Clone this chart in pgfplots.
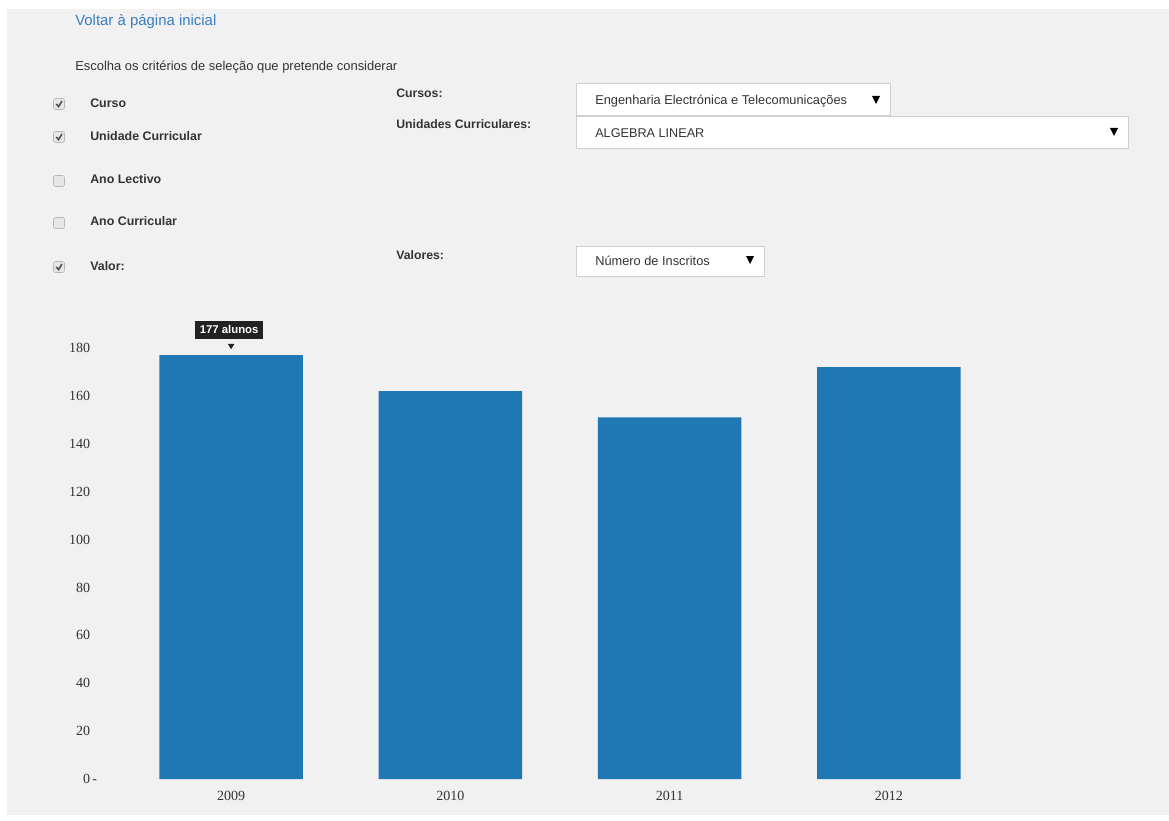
\documentclass[border=0pt]{standalone}
\usepackage{fontspec}
\setmainfont{Liberation Sans}
\newfontfamily\serifnum{Liberation Serif}
\usepackage{pgfplots}
\pgfplotsset{compat=1.18}
\definecolor{barblue}{HTML}{1F77B4}
\definecolor{linkblue}{HTML}{3A7DC0}
\definecolor{txt}{HTML}{333333}
\definecolor{pagebg}{HTML}{F1F1F1}
\definecolor{tipbg}{HTML}{222222}
\definecolor{boxborder}{HTML}{CFCFCF}
\definecolor{cbfill}{HTML}{E6E6E6}
\definecolor{cbdraw}{HTML}{B8B8B8}
\newcommand\fs[1]{\fontsize{#1}{#1}\selectfont}
\begin{document}
\begin{tikzpicture}
\begin{scope}[x=0.75pt,y=-0.75pt]
\fill[white] (0,0) rectangle (1169,820);
\fill[pagebg] (7,9) rectangle (1169,815);
\useasboundingbox (0,0) rectangle (1169,820);
% header text
\node[anchor=west, inner sep=0, text=linkblue, font=\fs{11.2}] at (75,22) {Voltar à página inicial};
\node[anchor=west, inner sep=0, text=txt, font=\fs{9.7}] at (75,67.5) {Escolha os critérios de seleção que pretende considerar};
% checkboxes
\foreach \y in {104,137,181,223,267} {
  \draw[cbdraw, fill=cbfill, rounded corners=1.5pt] (53.5,\y-5.5) rectangle (64.5,\y+5.5);
}
\foreach \y in {104,137,267} {
  \draw[txt!85, line width=1.2pt] (56.3,\y) -- (58.6,\y+2.6) -- (62,\y-3);
}
\node[anchor=west, inner sep=0, text=txt, font=\bfseries\fs{9.3}] at (90,103) {Curso};
\node[anchor=west, inner sep=0, text=txt, font=\bfseries\fs{9.3}] at (90,136) {Unidade Curricular};
\node[anchor=west, inner sep=0, text=txt, font=\bfseries\fs{9.3}] at (90,179) {Ano Lectivo};
\node[anchor=west, inner sep=0, text=txt, font=\bfseries\fs{9.3}] at (90,221) {Ano Curricular};
\node[anchor=west, inner sep=0, text=txt, font=\bfseries\fs{9.3}] at (90,266) {Valor:};
% right labels
\node[anchor=west, inner sep=0, text=txt, font=\bfseries\fs{9.2}] at (396,93) {Cursos:};
\node[anchor=west, inner sep=0, text=txt, font=\bfseries\fs{9.2}] at (396,124) {Unidades Curriculares:};
\node[anchor=west, inner sep=0, text=txt, font=\bfseries\fs{9.2}] at (396,255) {Valores:};
% dropdowns
\draw[boxborder, fill=white] (576,83) rectangle (890,115);
\node[anchor=west, inner sep=0, text=txt, font=\fs{9.6}] at (595,101) {Engenharia Electrónica e Telecomunicações};
\fill[black] (872,96) -- (880,96) -- (876,104) -- cycle;
\draw[boxborder, fill=white] (576,116) rectangle (1128,148);
\node[anchor=west, inner sep=0, text=txt, font=\fs{9.5}] at (595,133) {ALGEBRA LINEAR};
\fill[black] (1110,128) -- (1118,128) -- (1114,136) -- cycle;
\draw[boxborder, fill=white] (576,246) rectangle (764,276);
\node[anchor=west, inner sep=0, text=txt, font=\fs{9.6}] at (595,261) {Número de Inscritos};
\fill[black] (746,256) -- (754,256) -- (750,264) -- cycle;
\end{scope}
\begin{axis}[
  at={(91.125pt,-584.25pt)}, anchor=south west,
  scale only axis, width=657.75pt, height=323.25pt,
  xmin=-0.5, xmax=3.5, ymin=0, ymax=180,
  axis line style={draw=none}, major tick length=0pt,
  xtick={0,1,2,3}, xticklabels={2009,2010,2011,2012},
  ytick={0,20,40,60,80,100,120,140,160,180},
  yticklabels={0\rlap{\,-},20,40,60,80,100,120,140,160,180},
  /pgf/number format/assume math mode=true,
  ticklabel style={font=\serifnum\fs{10.5}, text=txt},
  yticklabel style={anchor=east, xshift=-20pt},
  xticklabel style={yshift=-5.5pt},
  clip=false,
]
\addplot[ybar, fill=barblue, draw=none, bar width=0.655] coordinates {(0,177) (1,162) (2,151) (3,172)};
\fill[tipbg] ([yshift=4.5pt]axis cs:0,177) -- ++(-2.5pt,4pt) -- ++(5pt,0pt) -- cycle;
\node[fill=tipbg, text=white, font=\bfseries\fs{8.5}, inner xsep=3.5pt, inner ysep=0pt, minimum height=13.5pt, anchor=south] at ([xshift=-1.5pt,yshift=12pt]axis cs:0,177) {177 alunos};
\end{axis}
\end{tikzpicture}
\end{document}
